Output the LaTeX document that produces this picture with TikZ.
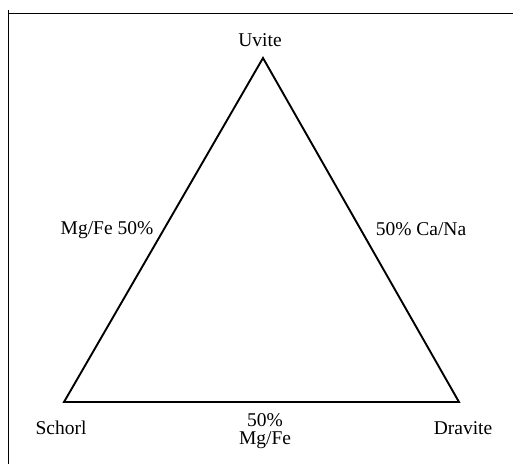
\documentclass[tikz,border=0pt]{standalone}
\usepackage{fontspec}
\setmainfont{Liberation Serif}
\usetikzlibrary{positioning}
\tikzset{
  frame/.style = {draw=black, line width=1.6pt},
  edge/.style  = {draw=black, line width=1.9pt, line join=miter},
  lbl/.style   = {font=\fontsize{19.5}{20}\selectfont, inner sep=1pt, align=center},
}

\begin{document}
\begin{tikzpicture}[x=1pt,y=-1pt]
      \useasboundingbox (0,0) rectangle (513,464);
      % frame
      \draw[frame,line width=0.9pt] (8,13) -- (513,13);
      \draw[frame] (8.5,10) -- (8.5,464);
      % end members
      \coordinate (U) at (263,58);
      \coordinate (S) at (64,402);
      \coordinate (D) at (459,402);
      \draw[edge] (U) -- (S) -- (D) -- cycle;
      \node[lbl] (uvite)   at (260,40)  {Uvite};
      \node[lbl] (schorl)  at (61,428)  {Schorl};
      \node[lbl] (dravite) at (463,428) {Dravite};
      % midpoints
      \node[lbl] (left)   at (107,230) {Mg/Fe 50\%};
      \node[lbl] (right)  at (421,229) {50\% Ca/Na};
      \node[lbl] (bottom) at (265,431) {50\%\\[-2pt]Mg/Fe};
    \end{tikzpicture}
\end{document}
